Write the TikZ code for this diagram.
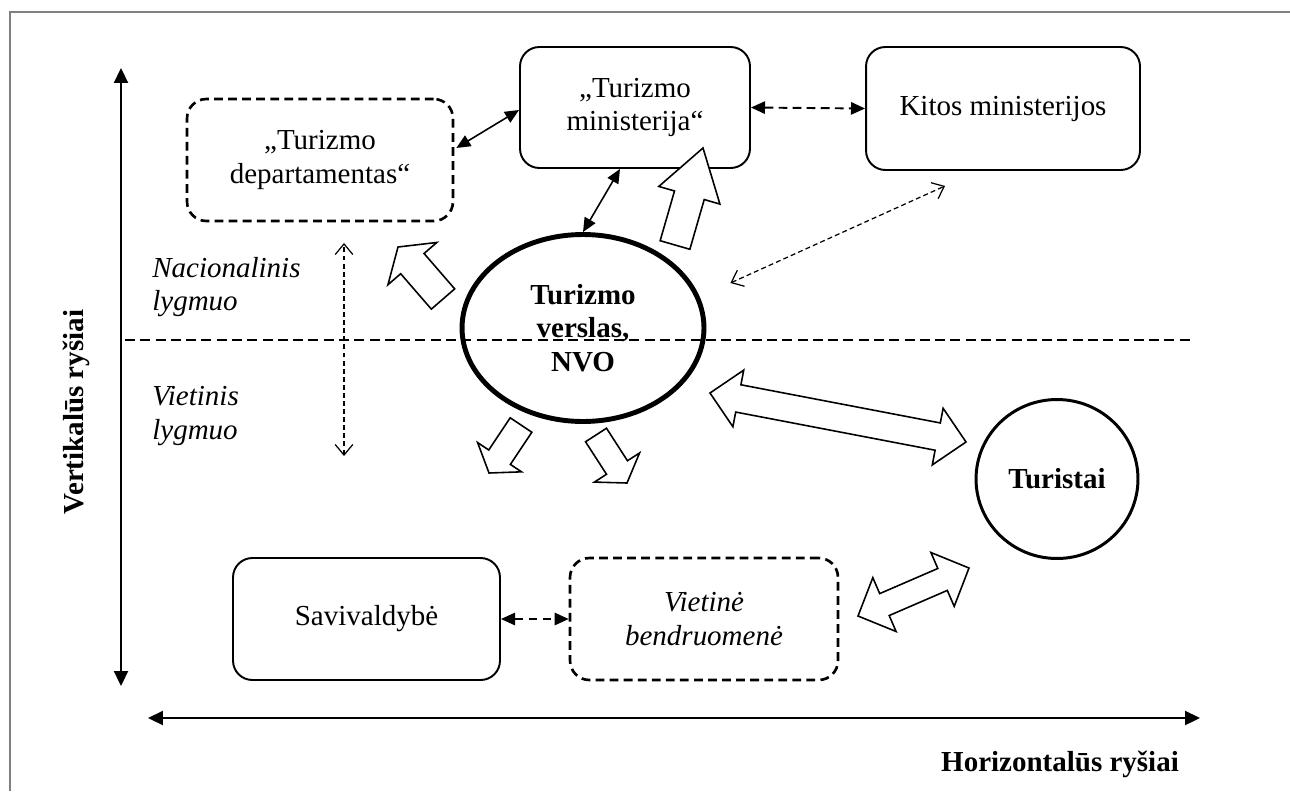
\documentclass[tikz,border=0pt]{standalone}
\usepackage{fontspec}
\setmainfont{Liberation Serif}
\usetikzlibrary{arrows.meta,calc,shapes.geometric}

\newcommand{\boxfont}{\fontsize{16.5}{19}\selectfont}

\tikzset{
  box/.style={draw, line width=1.1pt, rounded corners=11pt, align=center,
    minimum width=5.32cm, minimum height=2.44cm, font=\boxfont},
  dashbox/.style={box, line width=1.5pt, dash pattern=on 5pt off 3pt},
  oval/.style={ellipse, draw, align=center, inner sep=0pt, font=\boxfont\bfseries},
  lvl/.style={align=left, anchor=west, inner sep=0pt, font=\boxfont\itshape},
  axis/.style={line width=1pt, {Triangle[length=8.5pt,width=8pt]}-{Triangle[length=8.5pt,width=8pt]}},
  link/.style={line width=0.9pt, {Triangle[length=8pt,width=7pt]}-{Triangle[length=8pt,width=7pt]}},
  dlink/.style={link, line width=1.1pt, dash pattern=on 5pt off 3pt},
  thinlink/.style={line width=0.7pt, dash pattern=on 2.8pt off 1.8pt,
    {Straight Barb[length=6pt,width=10pt]}-{Straight Barb[length=6pt,width=10pt]}},
  sepline/.style={line width=0.9pt, dash pattern=on 5.7pt off 3pt},
  fat/.style={draw, fill=white, line width=0.9pt, line join=miter},
}

% block arrow: tail, tip, half shaft, half head, head length
\newcommand{\blockarrow}[5]{%
  \coordinate (ba-a) at #1; \coordinate (ba-b) at #2;
  \coordinate (ba-h) at ($(ba-b)!#5!(ba-a)$);
  \draw[fat] ($(ba-a)!#3!90:(ba-b)$) -- ($(ba-h)!#3!90:(ba-b)$) -- ($(ba-h)!#4!90:(ba-b)$)
    -- (ba-b) -- ($(ba-h)!#4!-90:(ba-b)$) -- ($(ba-h)!#3!-90:(ba-b)$) -- ($(ba-a)!#3!-90:(ba-b)$) -- cycle;}

% double block arrow: tip, tip, half shaft, half head, head length
\newcommand{\dblockarrow}[5]{%
  \coordinate (da-a) at #1; \coordinate (da-b) at #2;
  \coordinate (da-ha) at ($(da-a)!#5!(da-b)$);
  \coordinate (da-hb) at ($(da-b)!#5!(da-a)$);
  \draw[fat] (da-a) -- ($(da-ha)!#4!90:(da-b)$) -- ($(da-ha)!#3!90:(da-b)$)
    -- ($(da-hb)!#3!90:(da-b)$) -- ($(da-hb)!#4!90:(da-b)$) -- (da-b)
    -- ($(da-hb)!#4!-90:(da-b)$) -- ($(da-hb)!#3!-90:(da-b)$)
    -- ($(da-ha)!#3!-90:(da-b)$) -- ($(da-ha)!#4!-90:(da-b)$) -- cycle;}

\begin{document}
\begin{tikzpicture}[x=0.02cm, y=-0.02cm]
    \useasboundingbox (0,0) rectangle (1290,791);

    % Frame
    \draw[gray, line width=1.2pt] (1290,12) -- (10,12) -- (10,791);

    % Axes
    \coordinate (vbot) at (121,686);
    \coordinate (vtop) at (121,68);
    \coordinate (hleft) at (148,718);
    \coordinate (hright) at (1200,718);
    \draw[axis] (vbot) -- (vtop);
    \draw[axis] (hleft) -- (hright);
    \node[rotate=90, font=\boxfont\bfseries] (vert) at (76,412) {Vertikalūs ryšiai};
    \node[font=\boxfont\bfseries] (hor) at (1060,764) {Horizontalūs ryšiai};

    % Levels
    \node[lvl] (nac) at (152,287) {Nacionalinis\\lygmuo};
    \node[lvl] (viet) at (152,416) {Vietinis\\lygmuo};
    \coordinate (lvtop) at (344,243);
    \coordinate (lvbot) at (344,456);
    \draw[thinlink] (lvbot) -- (lvtop);

    % Boxes
    \node[dashbox] (dep) at (320,160) {„Turizmo\\departamentas“};
    \node[box, minimum width=4.6cm, minimum height=2.42cm] (min) at (635,107.5) {„Turizmo\\ministerija“};
    \node[box, minimum width=5.48cm, minimum height=2.46cm] (kit) at (1003,108.5) {Kitos ministerijos};
    \node[box, minimum width=5.34cm] (sav) at (366.5,619) {Savivaldybė};
    \node[dashbox, minimum width=5.36cm, font=\boxfont\itshape] (vie) at (704,619) {Vietinė\\bendruomenė};

    % Ovals
    \node[oval, line width=2.8pt, minimum width=4.84cm, minimum height=3.74cm] (nvo) at (583,328) {Turizmo\\verslas,\\NVO};
    \node[oval, line width=1.7pt, minimum width=3.24cm, minimum height=3.18cm] (tur) at (1057,479) {Turistai};

    % Level border
    \coordinate (sepL) at (125,340);
    \coordinate (sepR) at (1190,340);
    \draw[sepline] (sepL) -- (sepR);

    % Links
    \draw[link] ($(dep.east)+(2,-12)$) -- ($(min.west)+(0,2.5)$);
    \draw[link] ($(min.south)+(-15,0)$) -- (nvo.north);
    \draw[dlink] (min.east) -- (kit.west);
    \draw[dlink] (sav.east) -- (vie.west);
    \draw[thinlink] ($(nvo.east)+(24,-45)$) -- ($(kit.south)+(-58,15)$);

    % Block arrows
    \blockarrow{(443,299)}{(398,247)}{8.8pt}{18.4pt}{12.5pt}
    \blockarrow{(675,245)}{(703,148)}{8.8pt}{18.1pt}{28pt}
    \blockarrow{(521,425)}{(489,473)}{7.4pt}{15pt}{10.8pt}
    \blockarrow{(596,435)}{(627,483)}{7.1pt}{15.3pt}{10.5pt}
    \dblockarrow{(710,393)}{(966,442)}{7.9pt}{16.4pt}{16.4pt}
    \dblockarrow{(858,616)}{(969,568)}{6.8pt}{16.7pt}{16.4pt}
\end{tikzpicture}
\end{document}
